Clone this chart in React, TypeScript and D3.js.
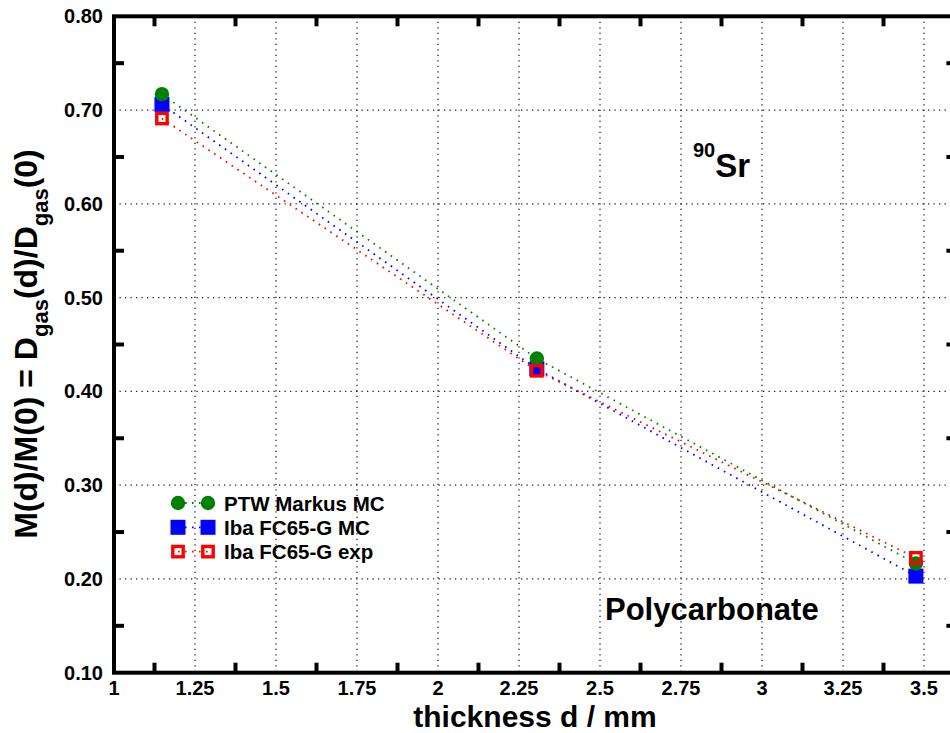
import React from "react";
import * as d3 from "d3";

// thickness d in mm
const thickness = [1.148, 2.305, 3.475];

// M(d)/M(0) for each detector
const ptwMarkusMC = [0.717, 0.435, 0.2165];
const ibaMC = [0.706, 0.424, 0.203];
const ibaExp = [0.691, 0.422, 0.2225];

const xTicks = [1, 1.25, 1.5, 1.75, 2, 2.25, 2.5, 2.75, 3, 3.25, 3.5];
const xMinor = [1.125, 1.375, 1.625, 1.875, 2.125, 2.375, 2.625, 2.875, 3.125, 3.375];
const yTicks = [0.1, 0.2, 0.3, 0.4, 0.5, 0.6, 0.7, 0.8];
const yMinor = [0.15, 0.25, 0.35, 0.45, 0.55, 0.65, 0.75];

const legendLabels = ["PTW Markus MC", "Iba FC65-G MC", "Iba FC65-G exp"];

const W = 950;
const H = 733;
const FONT = "'Liberation Sans', Arial, Helvetica, sans-serif";

export default function App() {
  const x = d3.scaleLinear().domain([1, 3.6]).range([114, 956.4]);
  const y = d3.scaleLinear().domain([0.1, 0.8]).range([672.7, 16.3]);
  const left = x(1);
  const right = x(3.6);
  const top = y(0.8);
  const bottom = y(0.1);

  const line = d3
    .line<number>()
    .x((d, i) => x(thickness[i]))
    .y((d) => y(d));

  // draw order: blue, green, red (red open squares on top)
  const series = [
    { name: legendLabels[1], values: ibaMC, color: "#0000ff", kind: "square" },
    { name: legendLabels[0], values: ptwMarkusMC, color: "#008000", kind: "circle" },
    { name: legendLabels[2], values: ibaExp, color: "#ff0000", kind: "open" },
  ];

  const marker = (kind: string, color: string, cx: number, cy: number, key: string) => {
    if (kind === "circle")
      return <circle key={key} cx={cx} cy={cy} r={7.2} fill={color} />;
    if (kind === "square")
      return <rect key={key} x={cx - 7.5} y={cy - 7.5} width={15} height={15} fill={color} />;
    return (
      <rect key={key} x={cx - 5.2} y={cy - 5.2} width={10.4} height={10.4} fill="none" stroke={color} strokeWidth={3.4} />
    );
  };

  const legendOrder = [series[1], series[0], series[2]];

  return (
    <svg
      width={W}
      height={H}
      style={{ position: "absolute", left: 0, top: 0, background: "#fff" }}
      fontFamily={FONT}
    >
      {/* grid */}
      <g stroke="#222" strokeWidth={1.3} strokeDasharray="1.3,4.2">
        {xTicks.slice(1).map((t) => (
          <line key={"gx" + t} x1={x(t)} x2={x(t)} y1={top} y2={bottom} />
        ))}
        {yTicks.slice(1, -1).map((t) => (
          <line key={"gy" + t} x1={left} x2={right} y1={y(t)} y2={y(t)} />
        ))}
      </g>

      {/* minor tick marks on all four sides */}
      <g stroke="#000" strokeWidth={4}>
        {xMinor.map((t) => (
          <g key={"tx" + t}>
            <line x1={x(t)} x2={x(t)} y1={bottom} y2={bottom - 10} />
            <line x1={x(t)} x2={x(t)} y1={top} y2={top + 10} />
          </g>
        ))}
        {yMinor.map((t) => (
          <g key={"ty" + t}>
            <line x1={left} x2={left + 10} y1={y(t)} y2={y(t)} />
            <line x1={right} x2={right - 10} y1={y(t)} y2={y(t)} />
          </g>
        ))}
      </g>

      {/* dotted connection lines */}
      {series.map((s) => (
        <path
          key={"l" + s.name}
          d={line(s.values) || ""}
          fill="none"
          stroke={s.color}
          strokeWidth={1.8}
          strokeDasharray="1.6,5.4"
        />
      ))}

      {/* markers */}
      {series.map((s) => (
        <g key={"m" + s.name}>
          {s.values.map((v, i) => marker(s.kind, s.color, x(thickness[i]), y(v), s.name + i))}
        </g>
      ))}

      {/* frame */}
      <rect x={left} y={top} width={right - left} height={bottom - top} fill="none" stroke="#000" strokeWidth={4} />

      {/* tick labels */}
      <g fontSize={20} fontWeight="bold" fill="#000">
        {yTicks.map((t) => (
          <text key={"yl" + t} x={103} y={y(t) + 7} textAnchor="end">
            {d3.format(".2f")(t)}
          </text>
        ))}
        {xTicks.map((t) => (
          <text key={"xl" + t} x={x(t)} y={695} textAnchor="middle">
            {String(t)}
          </text>
        ))}
      </g>

      {/* axis titles */}
      <text x={535} y={727} textAnchor="middle" fontSize={30} fontWeight="bold">
        thickness d / mm
      </text>
      <text transform="translate(37,344) rotate(-90)" textAnchor="middle" fontSize={32} fontWeight="bold">
        M(d)/M(0) = D
        <tspan fontSize={22} dy={11}>gas</tspan>
        <tspan dy={-11}>(d)/D</tspan>
        <tspan fontSize={22} dy={11}>gas</tspan>
        <tspan dy={-11}>(0)</tspan>
      </text>

      {/* annotations */}
      <text x={693} y={177} fontWeight="bold">
        <tspan fontSize={20} dy={-20}>90</tspan>
        <tspan fontSize={33} dy={20}>Sr</tspan>
      </text>
      <text x={605} y={620} fontSize={31} fontWeight="bold">
        Polycarbonate
      </text>

      {/* legend */}
      {legendOrder.map((s, i) => {
        const ly = 503 + i * 24.3;
        return (
          <g key={"lg" + s.name}>
            <line
              x1={178}
              x2={208}
              y1={ly}
              y2={ly}
              stroke={s.color}
              strokeWidth={1.8}
              strokeDasharray="1.6,5.4"
            />
            {marker(s.kind, s.color, 178, ly, "a")}
            {marker(s.kind, s.color, 208, ly, "b")}
            <text x={224} y={ly + 7.5} fontSize={20.5} fontWeight="bold">
              {s.name}
            </text>
          </g>
        );
      })}
    </svg>
  );
}
